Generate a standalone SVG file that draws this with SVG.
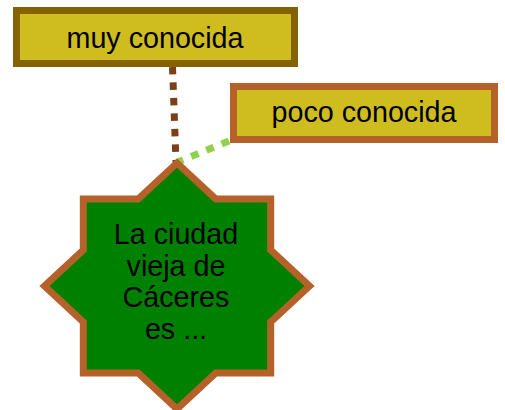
<svg xmlns="http://www.w3.org/2000/svg" width="505" height="410" viewBox="0 0 505 410">
<style>
text { font-family: "Liberation Sans", Arial, sans-serif; font-size: 28.7px; fill: #000; text-anchor: middle; }
.conn { fill: none; stroke-width: 7; }
</style>
<rect x="0" y="0" width="505" height="410" fill="#ffffff"/>
<g id="connectors">
<line class="conn" x1="172.5" y1="67" x2="176" y2="162" stroke="#7B4019" stroke-dasharray="7.5 8"/>
<line class="conn" x1="229" y1="141" x2="178" y2="162" stroke="#92D050" stroke-dasharray="8 8.5"/>
</g>
<g id="node-muy">
<rect x="16.5" y="10.5" width="278" height="53" fill="#CFBD1F" stroke="#846200" stroke-width="7"/>
<text x="155" y="48">muy conocida</text>
</g>
<g id="node-poco">
<rect x="233.5" y="86.5" width="261" height="53" fill="#CFBD1F" stroke="#B5612A" stroke-width="7"/>
<text x="364" y="122">poco conocida</text>
</g>
<g id="node-star">
<polygon points="177,163 215.8,199 270.7,199 270.7,250 309.5,286 270.7,322 270.7,373 215.8,373 177,409 138.2,373 83.3,373 83.3,322 44.5,286 83.3,250 83.3,199 138.2,199" fill="#008000" stroke="#B5612A" stroke-width="7"/>
<text x="176" y="244">La ciudad</text>
<text x="176" y="275.5">vieja de</text>
<text x="176" y="307">Cáceres</text>
<text x="176" y="338.5">es ...</text>
</g>
</svg>
